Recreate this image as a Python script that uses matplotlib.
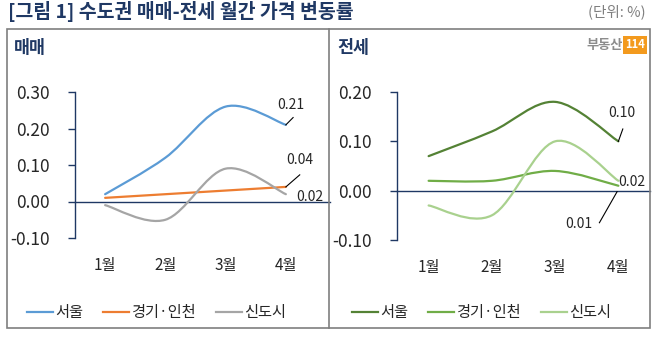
import matplotlib.pyplot as plt
from matplotlib.path import Path
from matplotlib.patches import PathPatch, Rectangle
from matplotlib.lines import Line2D

plt.rcParams['font.family'] = ['Noto Sans CJK KR', 'DejaVu Sans']

months = ['1월', '2월', '3월', '4월']
series = ['서울', '경기·인천', '신도시']

# 매매
sale_seoul = [0.02, 0.12, 0.26, 0.21]
sale_gg = [0.01, 0.02, 0.03, 0.04]
sale_new = [-0.01, -0.05, 0.09, 0.02]

# 전세
rent_seoul = [0.07, 0.12, 0.18, 0.10]
rent_gg = [0.02, 0.02, 0.04, 0.01]
rent_new = [-0.03, -0.05, 0.10, 0.02]

sale_colors = ['#5B9BD5', '#ED7D31', '#A5A5A5']
rent_colors = ['#548235', '#70AD47', '#A9D18E']
navy = '#1F3864'

W, H = 655, 338


def px(x, y):
    return x / W, 1 - y / H


def smooth(ax, ys, color):
    # excel style smoothed line drawn as bezier path
    xs = list(range(1, len(ys) + 1))
    pts = list(zip(xs, ys))
    verts = [pts[0]]
    codes = [Path.MOVETO]
    n = len(pts)
    for i in range(n - 1):
        p0 = pts[max(i - 1, 0)]
        p1 = pts[i]
        p2 = pts[i + 1]
        p3 = pts[min(i + 2, n - 1)]
        c1 = (p1[0] + (p2[0] - p0[0]) / 6, p1[1] + (p2[1] - p0[1]) / 6)
        c2 = (p2[0] - (p3[0] - p1[0]) / 6, p2[1] - (p3[1] - p1[1]) / 6)
        verts += [c1, c2, p2]
        codes += [Path.CURVE4] * 3
    ax.add_patch(PathPatch(Path(verts, codes), fill=False, edgecolor=color,
                           lw=1.6, capstyle='round', joinstyle='round', zorder=3))


def label(ax, x, y, txt, lx, ly, line_end=None):
    ax.text(lx, ly, txt, fontsize=10, color='#262626', ha='center', va='center',
            clip_on=False, zorder=5)
    if line_end is not None:
        ax.plot([x, line_end[0]], [y, line_end[1]], color='black', lw=0.8,
                clip_on=False, zorder=4)


def setup(ax, ylim, yticks):
    ax.set_xlim(0.5, 4.5)
    ax.set_ylim(*ylim)
    for s in ['top', 'right', 'bottom']:
        ax.spines[s].set_visible(False)
    ax.spines['left'].set_color(navy)
    ax.spines['left'].set_linewidth(1.0)
    ax.set_yticks(yticks)
    ax.set_yticklabels(['%.2f' % v for v in yticks])
    ax.tick_params(axis='y', direction='out', length=5, color=navy, width=1.0,
                   labelsize=12.5, labelcolor='#262626', pad=13)
    ax.set_xticks([1, 2, 3, 4])
    ax.set_xticklabels(months)
    ax.tick_params(axis='x', length=0, labelsize=11, labelcolor='#262626', pad=14)
    ax.patch.set_visible(False)


fig = plt.figure(figsize=(W / 100, H / 100), dpi=100)

# outer box
fig.patches.append(Rectangle(px(7, 328), 643 / W, 299 / H, transform=fig.transFigure,
                             fill=False, edgecolor='#7F7F7F', lw=1.2))
fig.add_artist(Line2D([329 / W, 329 / W], [1 - 29 / H, 1 - 328 / H], color='#7F7F7F', lw=1.2))

fig.text(*px(8, 12), '[그림 1] 수도권 매매-전세 월간 가격 변동률', fontsize=14,
         fontweight='bold', color=navy, va='center', ha='left')
fig.text(*px(646, 12), '(단위: %)', fontsize=10.5, color='#7F7F7F', va='center', ha='right')
fig.text(*px(14, 48), '매매', fontsize=12.5, fontweight='bold', color=navy, va='center')
fig.text(*px(337, 48), '전세', fontsize=12.5, fontweight='bold', color=navy, va='center')
fig.text(*px(623, 45), '부동산', fontsize=9.5, fontweight='bold', color='#8C8C8C',
         va='center', ha='right')
fig.text(*px(635, 45), '114', fontsize=8, fontweight='bold', color='white', va='center',
         ha='center', bbox=dict(boxstyle='square,pad=0.2', fc='#F39A1E', ec='none'))

# left panel
ax1 = fig.add_axes([75 / W, 1 - 238 / H, 241 / W, 146 / H])
setup(ax1, (-0.10, 0.30), [-0.10, 0.0, 0.10, 0.20, 0.30])
ax1.axhline(0, xmin=0, xmax=1.06, color=navy, lw=1.0, clip_on=False, zorder=2)
for ys, c in zip([sale_seoul, sale_gg, sale_new], sale_colors):
    smooth(ax1, ys, c)

label(ax1, 4, sale_seoul[3], '%.2f' % sale_seoul[3], 4.08, 0.265, (4.12, 0.23))
label(ax1, 4, sale_gg[3], '%.2f' % sale_gg[3], 4.23, 0.113, (4.23, 0.073))
label(ax1, 4, sale_new[3], '%.2f' % sale_new[3], 4.4, 0.012)

# right panel
ax2 = fig.add_axes([397 / W, 1 - 240 / H, 253 / W, 148 / H])
setup(ax2, (-0.10, 0.20), [-0.10, 0.0, 0.10, 0.20])
ax2.axhline(0, xmin=0, xmax=1.0, color=navy, lw=1.0, clip_on=False, zorder=2)
for ys, c in zip([rent_seoul, rent_gg, rent_new], rent_colors):
    smooth(ax2, ys, c)

label(ax2, 4, rent_seoul[3], '%.2f' % rent_seoul[3], 4.05, 0.158, (4.07, 0.125))
label(ax2, 4, rent_new[3], '%.2f' % rent_new[3], 4.22, 0.017)
label(ax2, 3.98, rent_gg[3] - 0.012, '%.2f' % rent_gg[3], 3.37, -0.067, (3.7, -0.065))

# legends
for ax, colors, x0 in [(ax1, sale_colors, 27), (ax2, rent_colors, 352)]:
    handles = [Line2D([], [], color=c, lw=1.6) for c in colors]
    fig.legend(handles, series, loc='center left', bbox_to_anchor=px(x0, 313), ncol=3,
               frameon=False, fontsize=11, handlelength=1.7, handletextpad=0.15,
               columnspacing=1.3, borderpad=0, borderaxespad=0, labelcolor='#262626')

fig.savefig('out.png', dpi=100)
